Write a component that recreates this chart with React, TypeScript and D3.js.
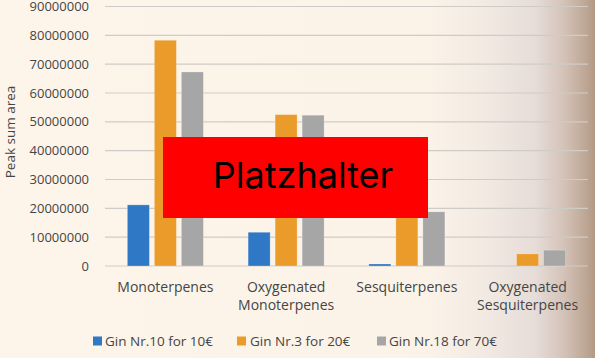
import React from "react";
import * as d3 from "d3";

const categories: string[][] = [
  ["Monoterpenes"],
  ["Oxygenated", "Monoterpenes"],
  ["Sesquiterpenes"],
  ["Oxygenated", "Sesquiterpenes"],
];
const seriesNames = ["Gin Nr.10 for 10€", "Gin Nr.3 for 20€", "Gin Nr.18 for 70€"];
const gin10 = [21200000, 11700000, 700000, 0];
const gin3 = [78300000, 52500000, 26000000, 4200000];
const gin18 = [67300000, 52300000, 18800000, 5500000];
const yTicks = [0, 10000000, 20000000, 30000000, 40000000, 50000000, 60000000, 70000000, 80000000, 90000000];
const colors = ["#2f78c6", "#eb9b2a", "#a6a6a6"];

const W = 595;
const H = 358;
const plotLeft = 105;
const plotRight = 588;
const plotTop = 6.5;
const plotBottom = 266;
const font = "'Open Sans', 'Liberation Sans', sans-serif";

export default function App() {
  const series = [gin10, gin3, gin18];
  const x0 = d3.scaleBand<number>().domain(d3.range(categories.length)).range([plotLeft, plotRight]);
  const groupW = 76;
  const x1 = d3.scaleBand<number>().domain([0, 1, 2]).range([0, groupW]).paddingInner(0.185);
  const y = d3.scaleLinear().domain([0, 90000000]).range([plotBottom, plotTop]);

  const legendItems = [
    { sx: 93, tx: 105 },
    { sx: 237, tx: 250 },
    { sx: 377, tx: 389 },
  ];

  return (
    <div style={{ position: "absolute", left: 0, top: 0 }}>
      <svg width={W} height={H} style={{ display: "block" }}>
        <defs>
          <linearGradient id="bg" x1="0" x2="1" y1="0" y2="0">
            <stop offset="0" stopColor="#fdf5ea" />
            <stop offset="0.72" stopColor="#fbf3e8" />
            <stop offset="0.82" stopColor="#f2e9e2" />
            <stop offset="0.9" stopColor="#e6dcd8" />
            <stop offset="0.95" stopColor="#d3c1b6" />
            <stop offset="1" stopColor="#b39a86" />
          </linearGradient>
        </defs>
        <rect x={0} y={0} width={W} height={H} fill="url(#bg)" />
        {yTicks.map((t) => (
          <g key={t}>
            <line x1={plotLeft} x2={plotRight} y1={y(t)} y2={y(t)} stroke="#cfcbc6" strokeWidth={1.2} />
            <text x={89} y={y(t) + 4.5} textAnchor="end" fontFamily={font} fontSize={13} fill="#454545">
              {t}
            </text>
          </g>
        ))}
        <text
          transform={`translate(15,${132}) rotate(-90)`}
          textAnchor="middle"
          fontFamily={font}
          fontSize={13.5}
          fill="#454545"
        >
          Peak sum area
        </text>
        {categories.map((c, i) => {
          const gx = (x0(i) as number) + x0.bandwidth() / 2 - groupW / 2;
          return (
            <g key={i}>
              {series.map((s, j) =>
                s[i] > 0 ? (
                  <rect
                    key={j}
                    x={gx + (x1(j) as number)}
                    y={y(s[i])}
                    width={x1.bandwidth()}
                    height={plotBottom - y(s[i])}
                    fill={colors[j]}
                    stroke="#ffffff"
                    strokeOpacity={0.3}
                    strokeWidth={0.8}
                  />
                ) : null
              )}
              {c.map((line, k) => (
                <text
                  key={k}
                  x={(x0(i) as number) + x0.bandwidth() / 2}
                  y={291.5 + k * 18}
                  textAnchor="middle"
                  fontFamily={font}
                  fontSize={14}
                  fill="#454545"
                >
                  {line}
                </text>
              ))}
            </g>
          );
        })}
        {seriesNames.map((n, j) => (
          <g key={n}>
            <rect x={legendItems[j].sx} y={336.5} width={9} height={9} fill={colors[j]} />
            <text x={legendItems[j].tx} y={345.5} fontFamily={font} fontSize={13.5} fill="#454545">
              {n}
            </text>
          </g>
        ))}
        <rect x={163} y={137} width={265} height={81} fill="#ff0000" />
        <text x={303} y={188} textAnchor="middle" fontFamily="Inter, sans-serif" fontSize={36} fill="#000000">
          Platzhalter
        </text>
      </svg>
    </div>
  );
}
